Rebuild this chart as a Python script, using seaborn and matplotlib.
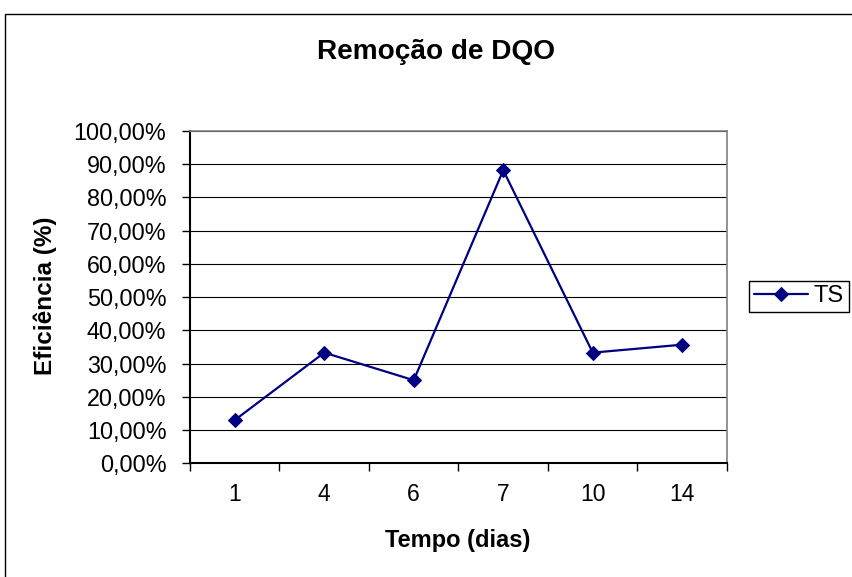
import matplotlib
matplotlib.use("Agg")
import matplotlib.pyplot as plt
import seaborn as sns
import pandas as pd
from matplotlib.ticker import FuncFormatter, MultipleLocator, FixedLocator, NullFormatter
from matplotlib.patches import Rectangle

tempo = ["1", "4", "6", "7", "10", "14"]
eficiencia = [13.0, 33.3, 25.0, 88.2, 33.3, 35.7]
serie = "TS"
titulo = "Remoção de DQO"
xlabel = "Tempo (dias)"
ylabel = "Eficiência (%)"

sns.set_theme(style="white")
plt.rcParams["font.family"] = ["Liberation Sans", "DejaVu Sans"]
plt.rcParams["text.color"] = "black"
plt.rcParams["axes.labelcolor"] = "black"
plt.rcParams["xtick.color"] = "black"
plt.rcParams["ytick.color"] = "black"

df = pd.DataFrame({"Tempo": tempo, "Eficiencia": eficiencia})

fig = plt.figure(figsize=(8.53, 5.77), dpi=100)
fig.patch.set_facecolor("white")
ax = fig.add_axes([190 / 853, 1 - 463.3 / 577, (727 - 190) / 853, (463.3 - 131) / 577])

sns.lineplot(data=df, x="Tempo", y="Eficiencia", sort=False, ax=ax,
             color="#000080", linewidth=1.6, marker="D", markersize=7.5,
             markeredgecolor="#000080", label=serie, legend=False)

n = len(tempo)
ax.set_xlim(-0.5, n - 0.5)
ax.set_ylim(0, 100)
ax.xaxis.set_major_locator(FixedLocator(list(range(n))))
ax.set_xticklabels(tempo)
ax.xaxis.set_minor_locator(FixedLocator([i - 0.5 for i in range(n + 1)]))
ax.xaxis.set_minor_formatter(NullFormatter())
ax.yaxis.set_major_locator(MultipleLocator(10))
ax.yaxis.set_major_formatter(FuncFormatter(lambda v, p: f"{v:.2f}".replace(".", ",") + "%"))

ax.tick_params(axis="x", which="major", length=0, pad=14, labelsize=16.5, labelcolor="black")
ax.tick_params(axis="x", which="minor", length=6, width=1, direction="out", color="black", bottom=True)
ax.tick_params(axis="y", which="major", length=6, width=1, direction="out", pad=11,
               labelsize=16.8, labelcolor="black", color="black", left=True)

ax.grid(axis="y", color="black", linewidth=0.8)
ax.set_axisbelow(True)
for s in ["left", "bottom"]:
    ax.spines[s].set_color("black")
    ax.spines[s].set_linewidth(1.5)
for s in ["top", "right"]:
    ax.spines[s].set_color("#808080")
    ax.spines[s].set_linewidth(1.2)
    ax.spines[s].set_visible(True)

ax.set_xlabel("")
ax.set_ylabel("")
fig.text(436 / 853, 1 - 52 / 577, titulo, ha="center", va="center", fontsize=20.2,
         fontweight="bold", color="black")
fig.text(458 / 853, 1 - 541 / 577, xlabel, ha="center", va="center", fontsize=17,
         fontweight="bold", color="black")
fig.text(45 / 853, 1 - 296 / 577, ylabel, ha="center", va="center", fontsize=17.5,
         fontweight="bold", rotation=90, color="black")

leg = ax.legend(loc="center left", bbox_to_anchor=(749 / 853, 1 - 296.5 / 577),
                bbox_transform=fig.transFigure, fontsize=17, frameon=True, fancybox=False,
                borderaxespad=0, borderpad=0.2, handlelength=2.3, handletextpad=0.25,
                edgecolor="black", facecolor="white", framealpha=1)
leg.get_frame().set_linewidth(1.0)
for t in leg.get_texts():
    t.set_color("black")

fig.patches.append(Rectangle((5 / 853, -0.05), 1.1, 1 - 14 / 577 + 0.05,
                             transform=fig.transFigure, fill=False, edgecolor="black",
                             linewidth=1.0, zorder=-1))

fig.savefig("out.png", dpi=100, facecolor="white")
